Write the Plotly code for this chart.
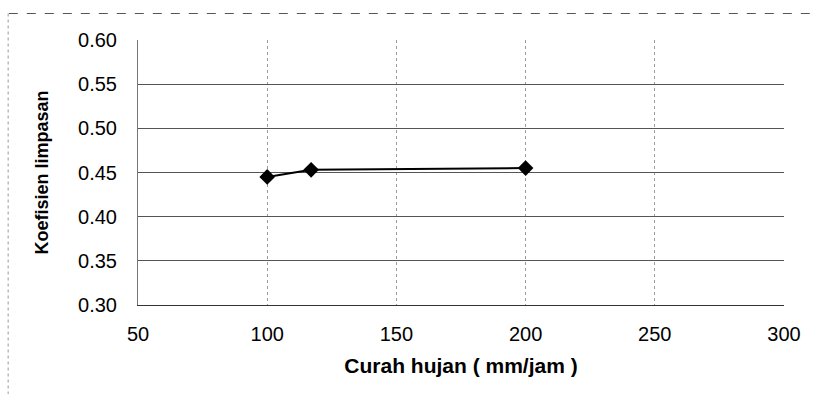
import plotly.graph_objects as go

# Rainfall intensity (mm/jam) vs runoff coefficient
curah_hujan = [100, 117, 200]
koefisien = [0.445, 0.453, 0.455]

x_ticks = [50, 100, 150, 200, 250, 300]
y_ticks = [0.30, 0.35, 0.40, 0.45, 0.50, 0.55, 0.60]
y_tick_text = ["0.30", "0.35", "0.40", "0.45", "0.50", "0.55", "0.60"]

FONT = "Liberation Sans, Arial, sans-serif"

fig = go.Figure()
fig.add_trace(go.Scatter(
    x=curah_hujan,
    y=koefisien,
    mode="lines+markers",
    line=dict(color="black", width=2),
    marker=dict(symbol="diamond", size=12, color="black"),
    showlegend=False,
))

fig.update_layout(
    width=813,
    height=394,
    margin=dict(l=138, r=26, t=40, b=89),
    paper_bgcolor="white",
    plot_bgcolor="white",
    font=dict(family=FONT, color="black"),
    xaxis=dict(
        range=[50, 300],
        tickvals=x_ticks,
        ticktext=[str(v) for v in x_ticks],
        tickfont=dict(size=20),
        ticklabelstandoff=11,
        showgrid=True,
        gridcolor="#9a9a9a",
        gridwidth=1,
        griddash="dot",
        zeroline=False,
        showline=True,
        linecolor="#333333",
        linewidth=1,
        mirror=False,
        title=dict(text="<b>Curah hujan ( mm/jam )</b>",
                   font=dict(size=21), standoff=14),
        fixedrange=True,
    ),
    yaxis=dict(
        range=[0.30, 0.60],
        tickvals=y_ticks,
        ticktext=y_tick_text,
        tickfont=dict(size=20),
        ticklabelstandoff=16,
        showgrid=True,
        gridcolor="#555555",
        gridwidth=1,
        zeroline=False,
        showline=True,
        linecolor="#777777",
        linewidth=1,
        griddash="solid",
        title=dict(text="<b>Koefisien limpasan</b>",
                   font=dict(size=18), standoff=24),
        fixedrange=True,
    ),
    shapes=[
        # chart area frame (top and left edges)
        dict(type="line", xref="paper", yref="paper",
             x0=-0.2, x1=1.05, y0=1.1, y1=1.1,
             line=dict(color="#555555", width=1, dash="dash")),
        dict(type="line", xref="paper", yref="paper",
             x0=-0.201, x1=-0.201, y0=1.1, y1=-0.35,
             line=dict(color="#999999", width=1, dash="dot")),
    ],
)

fig.write_html("out.html")
